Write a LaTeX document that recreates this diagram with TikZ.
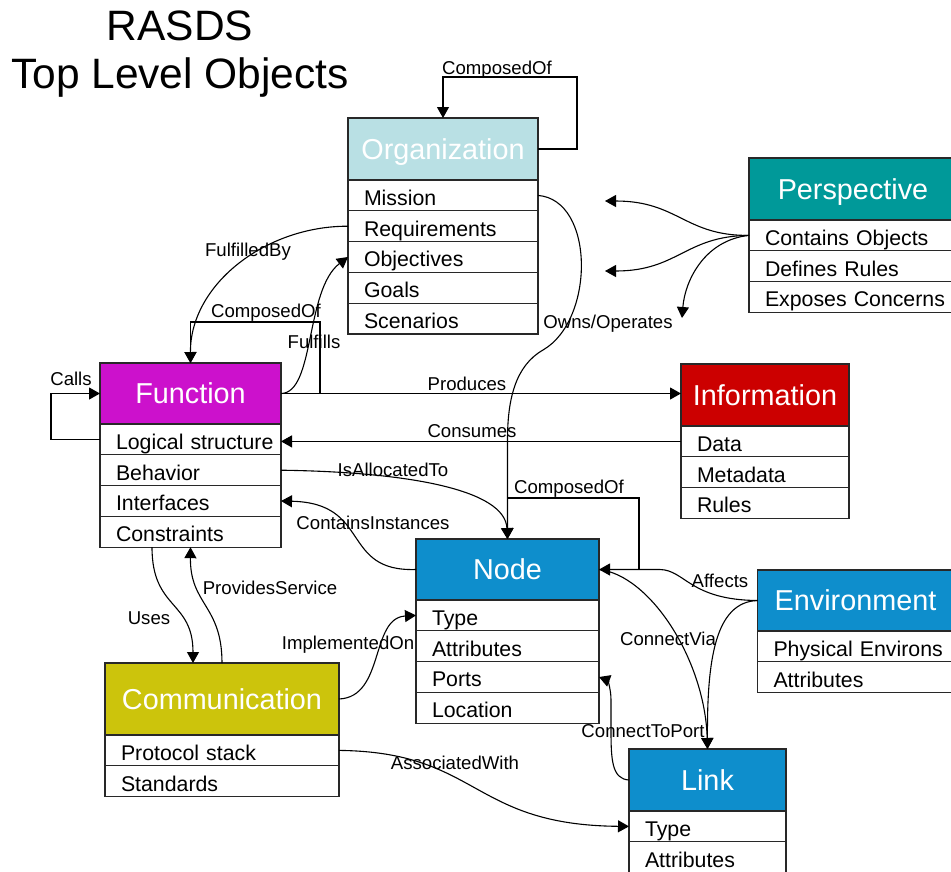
\documentclass[tikz,border=0pt]{standalone}
\usepackage{fontspec}
\setmainfont{Liberation Sans}
\usetikzlibrary{arrows.meta,calc}
\definecolor{orgc}{RGB}{185,224,228}
\definecolor{perc}{RGB}{0,153,153}
\definecolor{func}{RGB}{204,17,204}
\definecolor{infc}{RGB}{204,0,0}
\definecolor{bluc}{RGB}{14,142,204}
\definecolor{comc}{RGB}{204,196,12}
\definecolor{edgec}{RGB}{40,40,40}
\newcommand\myhfont{\fontsize{28.8}{32}\selectfont}
\newcommand\myrfont{\fontsize{21.3}{24}\selectfont}
\newcommand\mylfont{\fontsize{18.6}{21}\selectfont}
\newcommand\mytfont{\fontsize{42.5}{48}\selectfont}
\begin{document}
\begin{tikzpicture}[x=1pt,y=-1pt,
  hdr/.style={draw=edgec, line width=1.3pt, fill=#1, text=white, font=\myhfont,
    text height=20.6pt, text depth=0pt, inner sep=0pt, outer sep=0pt,
    anchor=north west, minimum height=62pt},
  rowbox/.style={draw=edgec, line width=1.3pt, fill=white, font=\myrfont,
    text height=19.8pt, text depth=0pt, inner ysep=0pt, inner xsep=16pt,
    outer sep=0pt, align=left, anchor=north west, minimum height=30.8pt,
    text width=#1},
  lbl/.style={font=\mylfont, text height=13.3pt, text depth=0pt, inner sep=0pt},
  conn/.style={draw=black, line width=1.1pt, -{Triangle[length=11pt,width=12pt]}},
  plain/.style={draw=black, line width=1.1pt}
]
\useasboundingbox (0,0) rectangle (951,871);

% title
\node[font=\mytfont, anchor=base, inner sep=0pt] (ttlA) at (180,40) {RASDS};
\node[font=\mytfont, anchor=base, inner sep=0pt] (ttlB) at (180,88) {Top Level Objects};

% Organization
\node[hdr=orgc, minimum width=190pt] (org) at (348,118) {Organization};
\node[rowbox=158pt] (orgMission) at (org.south west) {Mission};
\node[rowbox=158pt] (orgReq) at (orgMission.south west) {Requirements};
\node[rowbox=158pt] (orgObj) at (orgReq.south west) {Objectives};
\node[rowbox=158pt] (orgGoals) at (orgObj.south west) {Goals};
\node[rowbox=158pt] (orgScen) at (orgGoals.south west) {Scenarios};

% Function
\node[hdr=func, minimum width=181pt, minimum height=61pt] (fun) at (100,363) {Function};
\node[rowbox=149pt] (funLog) at (fun.south west) {\mbox{Logical structure}};
\node[rowbox=149pt] (funBeh) at (funLog.south west) {Behavior};
\node[rowbox=149pt] (funInt) at (funBeh.south west) {Interfaces};
\node[rowbox=149pt] (funCon) at (funInt.south west) {Constraints};

% Perspective
\node[hdr=perc, minimum width=208pt] (per) at (749,158) {Perspective};
\node[rowbox=176pt] (perCont) at (per.south west) {\mbox{Contains Objects}};
\node[rowbox=176pt] (perDef) at (perCont.south west) {Defines Rules};
\node[rowbox=176pt] (perExp) at (perDef.south west) {\mbox{Exposes Concerns}};

% Information
\node[hdr=infc, minimum width=168pt] (info) at (681,364) {Information};
\node[rowbox=136pt] (infoData) at (info.south west) {Data};
\node[rowbox=136pt] (infoMeta) at (infoData.south west) {Metadata};
\node[rowbox=136pt] (infoRules) at (infoMeta.south west) {Rules};

% Node
\node[hdr=bluc, minimum width=183pt, minimum height=61pt] (nd) at (416,539) {Node};
\node[rowbox=151pt] (ndType) at (nd.south west) {Type};
\node[rowbox=151pt] (ndAttr) at (ndType.south west) {Attributes};
\node[rowbox=151pt] (ndPorts) at (ndAttr.south west) {Ports};
\node[rowbox=151pt] (ndLoc) at (ndPorts.south west) {Location};

% Environment
\node[hdr=bluc, minimum width=196pt, minimum height=61pt] (env) at (757.5,570) {Environment};
\node[rowbox=164pt] (envPhys) at (env.south west) {\mbox{Physical Environs}};
\node[rowbox=164pt] (envAttr) at (envPhys.south west) {Attributes};

% Communication
\node[hdr=comc, minimum width=234pt, minimum height=72pt] (com) at (105,663) {Communication};
\node[rowbox=202pt] (comProt) at (com.south west) {Protocol stack};
\node[rowbox=202pt] (comStd) at (comProt.south west) {Standards};

% Link
\node[hdr=bluc, minimum width=157pt] (lnk) at (629,749) {Link};
\node[rowbox=125pt] (lnkType) at (lnk.south west) {Type};
\node[rowbox=125pt] (lnkAttr) at (lnkType.south west) {Attributes};

% free ends / bends
\coordinate (pArrA) at (605,201);
\coordinate (pArrB) at (605,271);
\coordinate (pArrC) at (682,318);
\coordinate (ownsBend) at (543,350);
\coordinate (ownsDown) at (507.5,440);
\coordinate (affBend) at (660,569.5);
\coordinate (portBend) at (611,730);
\coordinate (portBendB) at (611,700);

% connectors
\draw[conn] (org.east) -- ++(39,0) |- ([yshift=41pt]org.north) -- (org.north);
\draw[conn] (orgReq.west) .. controls (265,226) and (190,285) .. (fun.north);
\draw[conn] (fun.east) -- ++(39,0) |- ([yshift=41pt]fun.north) -- (fun.north);
\draw[conn] (fun.east) .. controls (315,393) and (305,290) .. (orgObj.west);
\draw[conn] (fun.east) -- (fun.east -| info.west);
\draw[conn] (infoData.west) -- (infoData.west -| funLog.east);
\draw[conn] (funBeh.east) .. controls (410,472) and (505,490) .. (nd.north);
\draw[plain] (orgMission.east) .. controls (595,200) and (595,320) .. (ownsBend);
\draw[conn] (ownsBend) .. controls (515,366) and (507.5,400) .. (ownsDown) -- (nd.north);
\draw[conn] (perCont.west) .. controls (685,236) and (678,201) .. (pArrA);
\draw[conn] (perCont.west) .. controls (685,236) and (678,271) .. (pArrB);
\draw[conn] (perCont.west) .. controls (705,240) and (685,280) .. (pArrC);
\draw[conn] (nd.east) -- ++(40,0) |- ([yshift=41pt]nd.north) -- (nd.north);
\draw[conn] (nd.west) .. controls (340,572) and (372,503) .. (funInt.east);
\draw[conn] (funLog.west) -- ++(-49,0) |- (fun.west);
\draw[conn] ([xshift=52pt]funCon.south west) .. controls (152,610) and (193,600) .. ([xshift=-29pt]com.north);
\draw[conn] (com.north) .. controls (222,605) and (190,605) .. (funCon.south);
\draw[conn] (com.east) .. controls (385,697) and (370,618) .. (ndType.west);
\draw[conn] (env.west) .. controls (690,600) and (685,570) .. (affBend) -- (nd.east);
\draw[conn] (nd.east) .. controls (650,575) and (705,660) .. (lnk.north);
\draw[conn] (env.west) .. controls (715,602) and (707,660) .. (lnk.north);
\draw[conn] (lnk.west) .. controls (612,779) and (611,760) .. (portBend) -- (portBendB) .. controls (611,688) and (607,680) .. (ndPorts.east);
\draw[conn] (comProt.east) .. controls (480,752) and (470,825) .. (lnkType.west);

% labels
\node[lbl] (lOrgComp) at (497,68) {ComposedOf};
\node[lbl] (lFulBy) at (248,250) {FulfilledBy};
\node[lbl] (lFunComp) at (266,311) {ComposedOf};
\node[lbl] (lFul) at (314,342) {Fulfills};
\node[lbl] (lProd) at (467,384) {Produces};
\node[lbl] (lCons) at (472,431) {Consumes};
\node[lbl] (lAlloc) at (393,470) {IsAllocatedTo};
\node[lbl] (lOwns) at (608,322) {Owns/Operates};
\node[lbl] (lInst) at (373,523) {ContainsInstances};
\node[lbl] (lCalls) at (71,379) {Calls};
\node[lbl] (lNdComp) at (569,487) {ComposedOf};
\node[lbl] (lUses) at (149,618) {Uses};
\node[lbl] (lProv) at (270,588) {ProvidesService};
\node[lbl] (lImpl) at (348,643) {ImplementedOn};
\node[lbl] (lAff) at (720,581) {Affects};
\node[lbl] (lVia) at (668,639) {ConnectVia};
\node[lbl] (lPort) at (643,731) {ConnectToPort};
\node[lbl] (lAssoc) at (455,763) {AssociatedWith};
\end{tikzpicture}
\end{document}
